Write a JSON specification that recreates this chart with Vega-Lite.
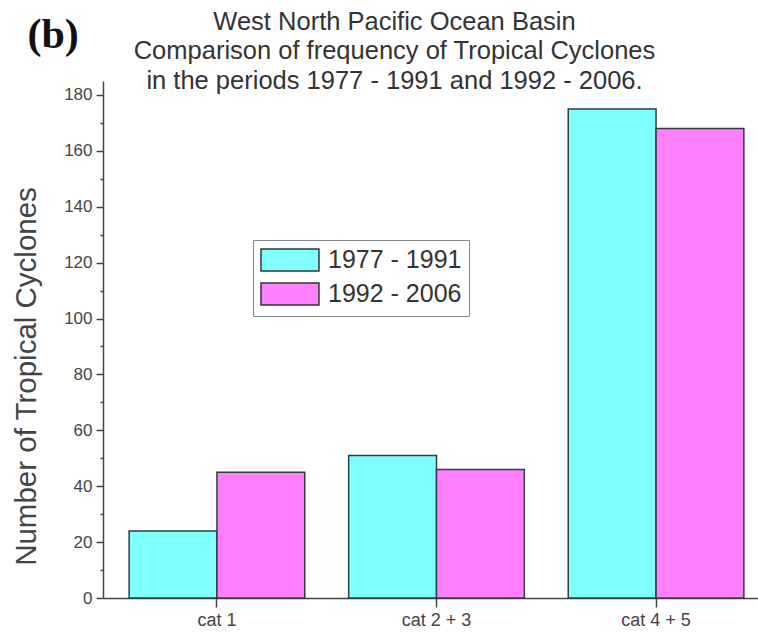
{
  "$schema": "https://vega.github.io/schema/vega-lite/v6.json",
  "autosize": "none",
  "width": 655,
  "height": 517,
  "padding": {"left": 103, "top": 81, "right": 0, "bottom": 39},
  "background": "white",
  "config": {"view": {"stroke": null}, "font": "Liberation Sans"},
  "title": {
    "text": ["West North Pacific Ocean Basin", "Comparison of frequency of Tropical Cyclones", "in the periods 1977 - 1991 and 1992 - 2006."],
    "fontSize": 25.5,
    "fontWeight": "normal",
    "lineHeight": 29.5,
    "color": "#333",
    "anchor": "middle",
    "frame": "group",
    "dx": -36,
    "offset": -14,
    "dy": 67
  },
  "data": {
    "values": [
      {"category": "cat 1", "period": "1977 - 1991", "count": 24},
      {"category": "cat 1", "period": "1992 - 2006", "count": 45},
      {"category": "cat 2 + 3", "period": "1977 - 1991", "count": 51},
      {"category": "cat 2 + 3", "period": "1992 - 2006", "count": 46},
      {"category": "cat 4 + 5", "period": "1977 - 1991", "count": 175},
      {"category": "cat 4 + 5", "period": "1992 - 2006", "count": 168}
    ]
  },
  "layer": [
    {
      "mark": {"type": "bar", "stroke": "#2f3f3f", "strokeWidth": 1.5},
      "encoding": {
        "x": {
          "field": "category", "type": "nominal", "sort": null,
          "scale": {"range": [0, 667], "paddingInner": 0.2, "paddingOuter": 0.119},
          "axis": {"title": null, "labelAngle": 0, "labelFontSize": 18, "labelColor": "#444", "tickSize": 9, "tickColor": "#444", "tickWidth": 1.5, "domainColor": "#444", "domainWidth": 1.5, "labelPadding": 4}
        },
        "xOffset": {"field": "period", "type": "nominal", "sort": null},
        "y": {
          "field": "count", "type": "quantitative",
          "scale": {"domain": [0, 185], "nice": false},
          "axis": {
            "title": "Number of Tropical Cyclones",
            "values": [0, 10, 20, 30, 40, 50, 60, 70, 80, 90, 100, 110, 120, 130, 140, 150, 160, 170, 180],
            "labelExpr": "datum.value % 20 === 0 ? datum.label : ''",
            "tickSize": {"condition": {"test": "datum.value % 20 === 0", "value": 7}, "value": 3},
            "grid": false,
            "domainColor": "#444", "tickColor": "#444", "domainWidth": 1.5, "tickWidth": 1.5,
            "labelFontSize": 17, "labelColor": "#444", "labelPadding": 4,
            "titleFontSize": 29.5, "titleFontWeight": "normal", "titleColor": "#444",
            "titleX": -77, "titleY": 295, "titleAngle": -90, "titleAlign": "center", "titleBaseline": "middle"
          }
        },
        "color": {
          "field": "period", "type": "nominal",
          "scale": {"range": ["#80ffff", "#ff80ff"]},
          "legend": {
            "orient": "none", "legendX": 150, "legendY": 159, "title": null,
            "strokeColor": "#888", "fillColor": "white", "padding": 7,
            "symbolType": "M-1,-0.92H3.83V0.92H-1Z", "symbolSize": 576,
            "symbolStrokeColor": "#333", "symbolStrokeWidth": 1.5, "symbolOpacity": 1,
            "labelFontSize": 25, "labelColor": "#333", "rowPadding": 4, "labelOffset": 42
          }
        }
      }
    },
    {
      "mark": {"type": "rule", "opacity": 0},
      "encoding": {
        "x": {
          "field": "category", "type": "nominal", "sort": null,
          "axis": {"orient": "top", "domain": false, "ticks": false, "labels": false, "title": "(b)", "titleFont": "Liberation Serif", "titleFontSize": 42, "titleFontWeight": "bold", "titleColor": "#111", "titleX": -76, "titleY": -34, "titleAlign": "left", "titleBaseline": "alphabetic", "titleAngle": 0}
        }
      }
    }
  ],
  "resolve": {"axis": {"x": "independent"}}
}
